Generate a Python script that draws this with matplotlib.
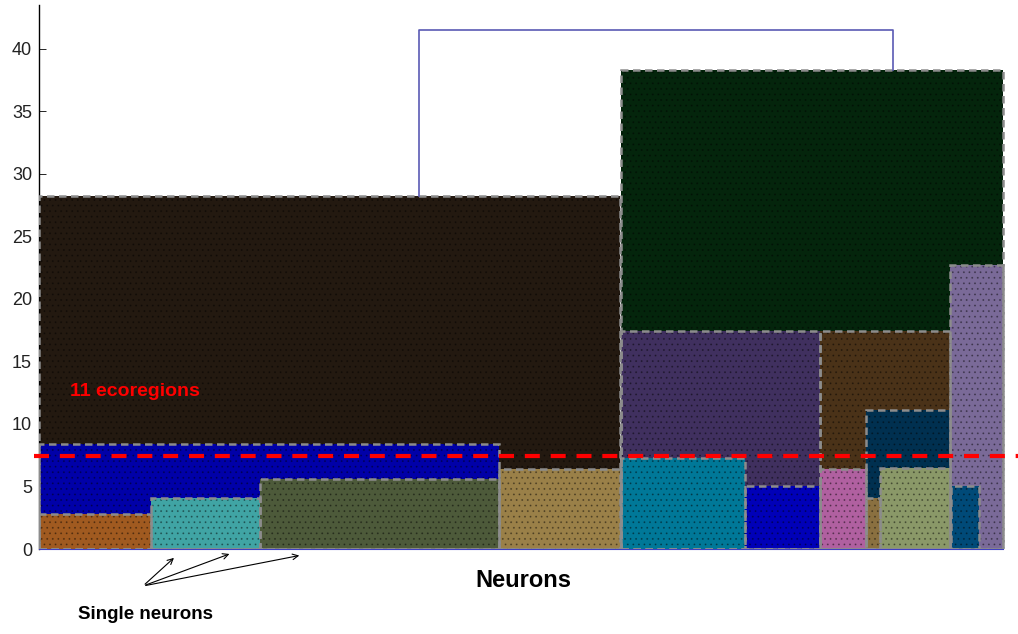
import matplotlib
matplotlib.use("Agg")
import matplotlib.pyplot as plt

plt.rcParams['font.family'] = ['Liberation Sans', 'DejaVu Sans']
plt.rcParams['hatch.color'] = (0, 0, 0, 0.35)
plt.rcParams['hatch.linewidth'] = 0.6

# =============================
# CLUSTER BOXES (neuron index span, distance span)
# =============================
box_left = [0.0, 58.2, 91.1, 58.2, 78.1, 0.0, 46.0, 58.2, 70.6, 78.1,
            82.7, 0.0, 11.2, 22.1, 82.7, 84.1, 91.2]
box_right = [58.1, 96.4, 96.4, 78.1, 91.1, 46.0, 58.2, 70.6, 78.1, 82.7,
             91.1, 11.2, 22.1, 46.0, 84.1, 91.1, 94.0]
box_top = [28.2, 38.3, 22.7, 17.4, 17.4, 8.4, 6.4, 7.3, 5.0, 6.4,
           11.1, 2.8, 4.1, 5.6, 4.1, 6.5, 5.0]
box_bottom = [0.0] * len(box_top)

box_colors = ['#231910', '#04250c', '#7a6a98', '#40305f', '#4a3218',
              '#0000a8', '#9a8048', '#007898', '#0000b8', '#b060a0',
              '#003050', '#a05a20', '#40a4a4', '#4d5a3a', '#8a7040',
              '#8a9868', '#004a78']

# top link of the dendrogram
link_x = [38.0, 38.0, 85.4, 85.4]
link_y = [28.2, 41.5, 41.5, 38.3]

cut_level = 7.4

# single-neuron leaves pointed at by the arrows
single_x = [13.7, 19.3, 26.3]
single_y = [-0.56, -0.32, -0.48]

fig = plt.figure(figsize=(10.18, 6.34), dpi=100)
ax = fig.add_axes([39 / 1018, 85 / 634, 979 / 1018, 544 / 634])

heights = [t - b for t, b in zip(box_top, box_bottom)]
widths = [r - l for l, r in zip(box_left, box_right)]

# filled boxes with a dotted texture
ax.bar(box_left, heights, width=widths, bottom=box_bottom, align='edge',
       color=box_colors, linewidth=0, hatch='...', zorder=2)
# dashed outlines
ax.bar(box_left, heights, width=widths, bottom=box_bottom, align='edge',
       facecolor='none', edgecolor='#8c8c8c', linewidth=1.8,
       linestyle=(0, (3.0, 1.8)), zorder=3)

ax.plot(link_x, link_y, color='#5a5ab4', linewidth=1.2, zorder=3)

ax.plot([-0.5, 97.9], [cut_level, cut_level], color='red', linewidth=3,
        dashes=(3.6, 2.6), clip_on=False, zorder=5)

ax.text(3.1, 12.6, "11 ecoregions", color='red', fontsize=14,
        fontweight='bold', va='center', ha='left', zorder=6)

for sx, sy in zip(single_x, single_y):
    ax.annotate("", xy=(sx, sy), xytext=(10.4, -2.96),
                arrowprops=dict(arrowstyle='->', color='black', lw=0.8),
                annotation_clip=False)

ax.text(48.4, -2.5, "Neurons", fontsize=17, fontweight='bold',
        ha='center', va='center', clip_on=False)
ax.text(10.7, -5.2, "Single neurons", fontsize=13.5, fontweight='bold',
        ha='center', va='center', clip_on=False)

ax.set_xlim(0, 97.9)
ax.set_ylim(0, 43.5)
ax.set_yticks(range(0, 45, 5))
ax.set_xticks([])
ax.tick_params(axis='y', direction='in', length=5, width=0.6,
               labelsize=13, pad=5, labelcolor='#222222')

ax.spines['top'].set_visible(False)
ax.spines['right'].set_visible(False)
ax.spines['bottom'].set_color('#4040c0')
ax.spines['bottom'].set_linewidth(0.8)
ax.spines['bottom'].set_bounds(0, 96.4)
ax.spines['left'].set_linewidth(1.0)

fig.savefig("out.png", dpi=100)
